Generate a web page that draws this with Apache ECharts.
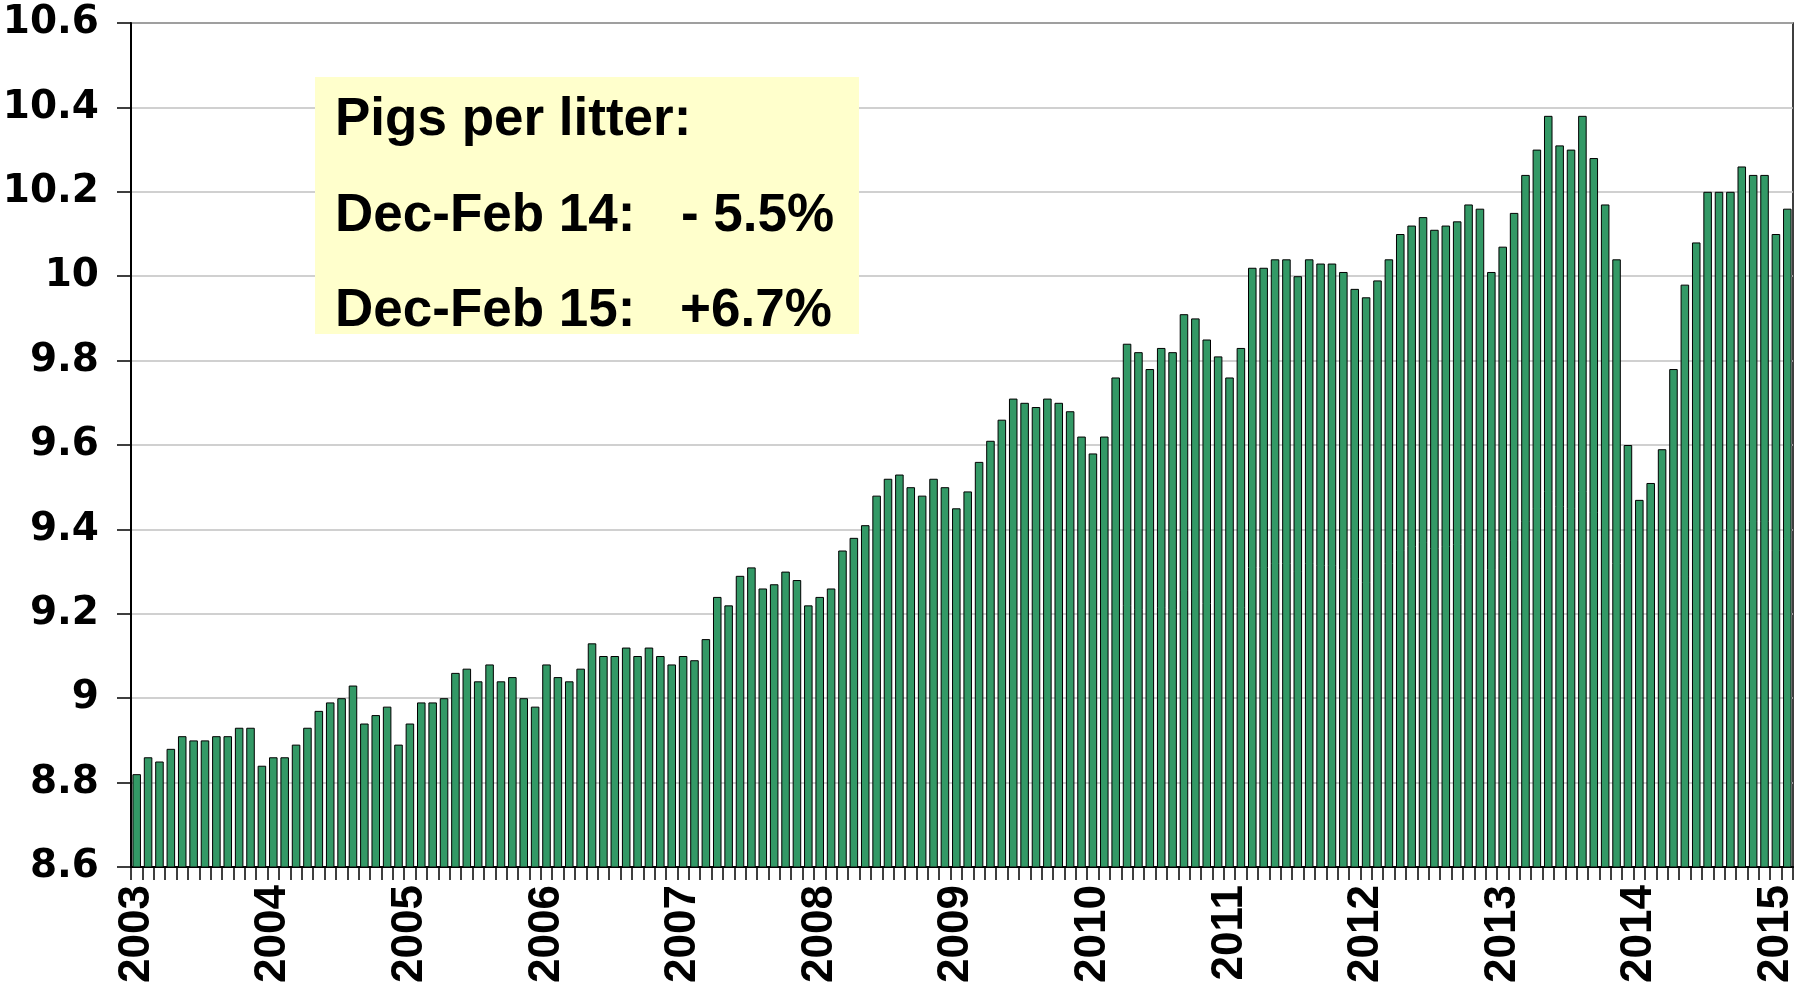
<!DOCTYPE html>
<html>
<head>
<meta charset="utf-8">
<script src="https://cdn.jsdelivr.net/npm/echarts@6/dist/echarts.min.js"></script>
<style>
html,body{margin:0;padding:0;background:#fff;}
#chart{width:1808px;height:988px;}
</style>
</head>
<body>
<div id="chart"></div>
<script>
// Years shown on the category axis (monthly bars, Jan 2003 - Feb 2015)
var years = ['2003','2004','2005','2006','2007','2008','2009','2010','2011','2012','2013','2014','2015'];
var monthsPerYear = [12,12,12,12,12,12,12,12,12,12,12,12,2];

// Pigs per litter, monthly values by year
var v2003 = [8.82, 8.86, 8.85, 8.88, 8.91, 8.90, 8.90, 8.91, 8.91, 8.93, 8.93, 8.84];
var v2004 = [8.86, 8.86, 8.89, 8.93, 8.97, 8.99, 9.00, 9.03, 8.94, 8.96, 8.98, 8.89];
var v2005 = [8.94, 8.99, 8.99, 9.00, 9.06, 9.07, 9.04, 9.08, 9.04, 9.05, 9.00, 8.98];
var v2006 = [9.08, 9.05, 9.04, 9.07, 9.13, 9.10, 9.10, 9.12, 9.10, 9.12, 9.10, 9.08];
var v2007 = [9.10, 9.09, 9.14, 9.24, 9.22, 9.29, 9.31, 9.26, 9.27, 9.30, 9.28, 9.22];
var v2008 = [9.24, 9.26, 9.35, 9.38, 9.41, 9.48, 9.52, 9.53, 9.50, 9.48, 9.52, 9.50];
var v2009 = [9.45, 9.49, 9.56, 9.61, 9.66, 9.71, 9.70, 9.69, 9.71, 9.70, 9.68, 9.62];
var v2010 = [9.58, 9.62, 9.76, 9.84, 9.82, 9.78, 9.83, 9.82, 9.91, 9.90, 9.85, 9.81];
var v2011 = [9.76, 9.83, 10.02, 10.02, 10.04, 10.04, 10.00, 10.04, 10.03, 10.03, 10.01, 9.97];
var v2012 = [9.95, 9.99, 10.04, 10.10, 10.12, 10.14, 10.11, 10.12, 10.13, 10.17, 10.16, 10.01];
var v2013 = [10.07, 10.15, 10.24, 10.30, 10.38, 10.31, 10.30, 10.38, 10.28, 10.17, 10.04, 9.60];
var v2014 = [9.47, 9.51, 9.59, 9.78, 9.98, 10.08, 10.20, 10.20, 10.20, 10.26, 10.24, 10.24];
var v2015 = [10.10, 10.16];

// Y axis ticks
var yMin = 8.6, yMax = 10.6, yStep = 0.2;

// Annotation texts
var boxTitle = 'Pigs per litter:';
var boxRows = [['Dec-Feb 14:', '- 5.5%'], ['Dec-Feb 15:', '+6.7%']];

var yearly = [v2003,v2004,v2005,v2006,v2007,v2008,v2009,v2010,v2011,v2012,v2013,v2014,v2015];
var categories = [];
var values = [];
years.forEach(function(y, i){
  for (var m = 0; m < monthsPerYear[i]; m++) {
    categories.push(y + '-' + (m + 1 < 10 ? '0' : '') + (m + 1));
    values.push(yearly[i][m]);
  }
});

var boxFont = 'bold 53px "Liberation Sans"';
var chart = echarts.init(document.getElementById('chart'), null, {renderer: 'canvas'});
chart.setOption({
  animation: false,
  backgroundColor: '#ffffff',
  grid: {
    left: 131, right: 15, top: 23, bottom: 121,
    containLabel: false, outerBoundsMode: 'none',
    show: true, borderColor: '#000', borderWidth: 1.5, backgroundColor: 'transparent'
  },
  xAxis: {
    type: 'category',
    data: categories,
    boundaryGap: true,
    axisLine: {show: true, lineStyle: {color: '#000', width: 2}},
    axisTick: {show: true, interval: 0, length: 13, lineStyle: {color: '#000', width: 1.5}},
    axisLabel: {
      interval: 11, rotate: 90, margin: 18,
      fontFamily: 'Liberation Sans', fontWeight: 'bold', fontSize: 44, color: '#000',
      formatter: function(v){ return v.slice(0, 4); }
    },
    splitLine: {show: false}
  },
  yAxis: {
    type: 'value',
    min: yMin, max: yMax, interval: yStep,
    axisLine: {show: true, lineStyle: {color: '#000', width: 2}},
    axisTick: {show: true, length: 14, lineStyle: {color: '#000', width: 1.5}},
    axisLabel: {
      margin: 32,
      fontFamily: 'DejaVu Sans', fontWeight: 'bold', fontSize: 39, color: '#000',
      formatter: function(v){ return String(parseFloat(v.toFixed(1))); }
    },
    splitLine: {show: true, lineStyle: {color: '#c0c0c0', width: 1.5}}
  },
  series: [{
    type: 'bar',
    data: values,
    barCategoryGap: '25%',
    itemStyle: {color: '#339966', borderColor: '#000', borderWidth: 1}
  }],
  graphic: [
    {type: 'rect', z: 100, shape: {x: 315, y: 77, width: 544, height: 257}, style: {fill: '#FFFFCC'}},
    {type: 'text', z: 101, style: {text: boxTitle, x: 335, y: 120, fill: '#000', font: boxFont, verticalAlign: 'middle'}},
    {type: 'text', z: 101, style: {text: boxRows[0][0], x: 335, y: 216, fill: '#000', font: boxFont, verticalAlign: 'middle'}},
    {type: 'text', z: 101, style: {text: boxRows[0][1], x: 681, y: 216, fill: '#000', font: boxFont, verticalAlign: 'middle'}},
    {type: 'text', z: 101, style: {text: boxRows[1][0], x: 335, y: 311, fill: '#000', font: boxFont, verticalAlign: 'middle'}},
    {type: 'text', z: 101, style: {text: boxRows[1][1], x: 680, y: 311, fill: '#000', font: boxFont, verticalAlign: 'middle'}}
  ]
});
</script>
</body>
</html>
